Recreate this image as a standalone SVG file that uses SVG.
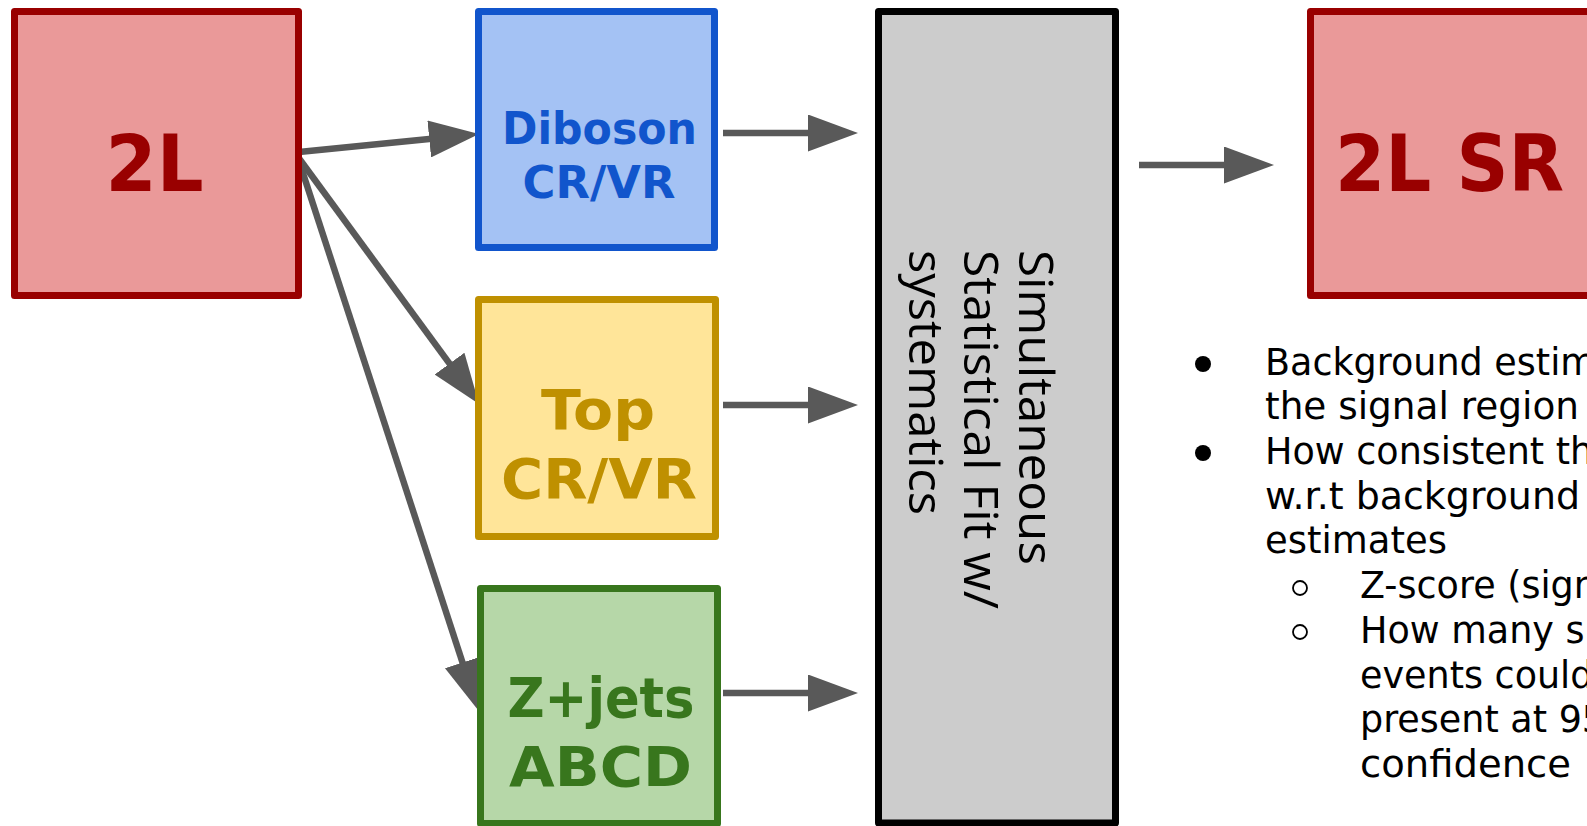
<svg xmlns="http://www.w3.org/2000/svg" width="1587" height="826" viewBox="0 0 1587 826">
<style>
.box{stroke-width:7;stroke-linejoin:round}
.lbl{font-family:"DejaVu Sans",sans-serif;font-weight:bold;text-anchor:middle}
.conn{stroke:#595959;stroke-width:6.5;fill:none;marker-end:url(#ah)}
.bt{font-family:"DejaVu Sans",sans-serif;font-size:36.5px;fill:#000}
.fit{font-family:"Open Sans",sans-serif;font-size:48px;fill:#000}
</style>
<defs>
<marker id="ah" viewBox="0 0 50 37" markerUnits="userSpaceOnUse" markerWidth="50" markerHeight="37" refX="10" refY="18.5" orient="auto">
<path d="M0,0 L50,18.5 L0,37 Z" fill="#595959"/>
</marker>
</defs>
<rect width="1587" height="826" fill="#ffffff"/>
<g id="connectors">
<line class="conn" x1="299" y1="152" x2="439.2" y2="138"/>
<line class="conn" x1="298" y1="157" x2="455.4" y2="371.7"/>
<line class="conn" x1="298" y1="158" x2="465.6" y2="672"/>
<line class="conn" x1="723" y1="133" x2="818" y2="133"/>
<line class="conn" x1="723" y1="405" x2="818" y2="405"/>
<line class="conn" x1="723" y1="693" x2="818" y2="693"/>
<line class="conn" x1="1139" y1="165" x2="1234" y2="165"/>
</g>
<g id="node-2L">
<rect class="box" x="14.5" y="11.5" width="284" height="284" fill="#ea9999" stroke="#990000"/>
<text class="lbl" x="154.5" y="191" font-size="78" fill="#990000" textLength="98" lengthAdjust="spacingAndGlyphs">2L</text>
</g>
<g id="node-diboson">
<rect class="box" x="478.5" y="11.5" width="236" height="236" fill="#a4c2f4" stroke="#1155cc"/>
<text class="lbl" x="599.5" y="143.5" font-size="44" fill="#1155cc" textLength="195" lengthAdjust="spacingAndGlyphs">Diboson</text>
<text class="lbl" x="599" y="198" font-size="44" fill="#1155cc" textLength="153" lengthAdjust="spacingAndGlyphs">CR/VR</text>
</g>
<g id="node-top">
<rect class="box" x="478.5" y="299.5" width="237" height="237" fill="#ffe599" stroke="#bf9000"/>
<text class="lbl" x="598" y="428.5" font-size="56" fill="#bf9000" textLength="114" lengthAdjust="spacingAndGlyphs">Top</text>
<text class="lbl" x="599" y="498" font-size="56" fill="#bf9000" textLength="196" lengthAdjust="spacingAndGlyphs">CR/VR</text>
</g>
<g id="node-zjets">
<rect class="box" x="480.5" y="588.5" width="237" height="235" fill="#b6d7a8" stroke="#38761d"/>
<text class="lbl" x="601" y="717" font-size="56" fill="#38761d" textLength="187" lengthAdjust="spacingAndGlyphs">Z+jets</text>
<text class="lbl" x="600.5" y="786" font-size="56" fill="#38761d" textLength="183" lengthAdjust="spacingAndGlyphs">ABCD</text>
</g>
<g id="node-fit">
<rect class="box" x="878.5" y="11.5" width="237" height="811.5" fill="#cccccc" stroke="#000000"/>
<g transform="translate(1019,250) rotate(90)">
<text class="fit" x="0" y="0" textLength="315" lengthAdjust="spacingAndGlyphs">Simultaneous</text>
<text class="fit" x="0" y="55" textLength="359" lengthAdjust="spacingAndGlyphs">Statistical Fit w/</text>
<text class="fit" x="0" y="110" textLength="265" lengthAdjust="spacingAndGlyphs">systematics</text>
</g>
</g>
<g id="node-2LSR">
<rect class="box" x="1310.5" y="11.5" width="300" height="284" fill="#ea9999" stroke="#990000"/>
<text class="lbl" x="1449.5" y="191" font-size="78" fill="#990000" textLength="229" lengthAdjust="spacingAndGlyphs">2L SR</text>
</g>
<g id="notes">
<circle cx="1203" cy="364" r="8" fill="#000"/>
<circle cx="1203" cy="453" r="8" fill="#000"/>
<circle cx="1300" cy="588" r="7" fill="none" stroke="#000" stroke-width="1.8"/>
<circle cx="1300" cy="632" r="7" fill="none" stroke="#000" stroke-width="1.8"/>
<text class="bt" x="1265" y="375">Background estim</text>
<text class="bt" x="1265" y="419" textLength="314" lengthAdjust="spacingAndGlyphs">the signal region</text>
<text class="bt" x="1265" y="464">How consistent th</text>
<text class="bt" x="1265" y="509" textLength="315" lengthAdjust="spacingAndGlyphs">w.r.t background</text>
<text class="bt" x="1265" y="553" textLength="182" lengthAdjust="spacingAndGlyphs">estimates</text>
<text class="bt" x="1360" y="598">Z-score (sign</text>
<text class="bt" x="1360" y="643">How many s</text>
<text class="bt" x="1360" y="688">events could</text>
<text class="bt" x="1360" y="732">present at 95</text>
<text class="bt" x="1360" y="777" textLength="211" lengthAdjust="spacingAndGlyphs">confidence</text>
</g>
</svg>
